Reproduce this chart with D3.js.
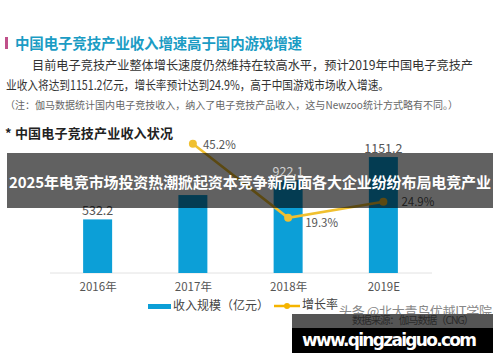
<!DOCTYPE html>
<html>
<head>
<meta charset="utf-8">
<script src="https://cdn.jsdelivr.net/npm/d3@7"></script>
<style>
  body { margin: 0; background: #fff; }
  svg { display: block; font-family: "Noto Sans CJK SC", "Noto Sans", sans-serif; }
</style>
</head>
<body>
<svg id="chart" width="500" height="362"></svg>
<script>
var years = ["2016年", "2017年", "2018年", "2019E"];
var revenue = [532.2, 774, 922.1, 1151.2];
var revenueLabels = ["532.2", null, "922.1", "1151.2"];
var growth = [null, 45.2, 19.3, 24.9];
var growthLabels = [null, "45.2%", "19.3%", "24.9%"];
var legendNames = ["收入规模（亿元）", "增长率"];

var barColor = "#0c9fd7";
var lineColor = "#f0c030";

var svg = d3.select("#chart");

// header text
svg.append("rect").attr("x", 5).attr("y", 37).attr("width", 3).attr("height", 12).attr("fill", "#c0508a");
svg.append("text").attr("x", 15).attr("y", 48.5)
  .attr("font-size", 14.5).attr("font-weight", "bold").attr("fill", "#1b9cc4")
  .attr("textLength", 287)
  .text("中国电子竞技产业收入增速高于国内游戏增速");
svg.append("text").attr("x", 32).attr("y", 69.5)
  .attr("font-size", 12.5).attr("fill", "#333")
  .attr("textLength", 441).attr("lengthAdjust", "spacingAndGlyphs")
  .text("目前电子竞技产业整体增长速度仍然维持在较高水平，预计2019年中国电子竞技产");
svg.append("text").attr("x", 6).attr("y", 89.5)
  .attr("font-size", 12.5).attr("fill", "#333")
  .attr("textLength", 383).attr("lengthAdjust", "spacingAndGlyphs")
  .text("业收入将达到1151.2亿元，增长率预计达到24.9%，高于中国游戏市场收入增速。");
svg.append("text").attr("x", 5).attr("y", 108.5)
  .attr("font-size", 10).attr("fill", "#666").attr("textLength", 453)
  .text("（注：伽马数据统计国内电子竞技收入，纳入了电子竞技产品收入，这与Newzoo统计方式略有不同。）");
svg.append("text").attr("x", 5).attr("y", 137.5)
  .attr("font-size", 13).attr("font-weight", "bold").attr("fill", "#222").attr("textLength", 168)
  .text("* 中国电子竞技产业收入状况");

// chart
var x = d3.scalePoint().domain(years).range([50, 431]).padding(0.5);
var yBar = d3.scaleLinear().domain([0, 1400]).range([273, 132]);
var yRate = d3.scaleLinear().domain([0, 50]).range([273, 130]);
var barW = 29;

var xAxis = d3.axisBottom(x).tickSize(0).tickPadding(10);
var ax = svg.append("g").attr("transform", "translate(0,273)").call(xAxis);
ax.select(".domain").attr("stroke", "#e2e2e2").attr("d", "M50,0H432");
ax.selectAll("text").attr("font-size", 11.5).attr("fill", "#555")
  .attr("font-family", "Noto Sans CJK SC, sans-serif");

svg.selectAll(".bar").data(revenue).enter().append("rect")
  .attr("class", "bar")
  .attr("x", function(d, i){ return x(years[i]) - barW/2; })
  .attr("y", function(d){ return yBar(d); })
  .attr("width", barW)
  .attr("height", function(d){ return 273 - yBar(d); })
  .attr("fill", barColor);

var barLabelData = revenue.map(function(v, i){ return {year: years[i], v: v, label: revenueLabels[i]}; })
  .filter(function(d){ return d.label != null; });

// labels below the banner
svg.selectAll(".bar-label").data(barLabelData.filter(function(d){ return d.year != "2018年"; }))
  .enter().append("text")
  .attr("x", function(d){ return x(d.year); })
  .attr("y", function(d){ return yBar(d.v) - 4; })
  .attr("text-anchor", "middle")
  .attr("font-size", 12.5).attr("fill", "#555")
  .text(function(d){ return d.label; });

var rateData = years.map(function(y, i){ return {year: y, v: growth[i], label: growthLabels[i]}; })
  .filter(function(d){ return d.v != null; });

var line = d3.line()
  .x(function(d){ return x(d.year); })
  .y(function(d){ return yRate(d.v); });

svg.append("path").datum(rateData)
  .attr("d", line).attr("fill", "none")
  .attr("stroke", lineColor).attr("stroke-width", 2.5);

svg.selectAll(".dot").data(rateData).enter().append("circle")
  .attr("cx", function(d){ return x(d.year); })
  .attr("cy", function(d){ return yRate(d.v); })
  .attr("r", 4).attr("fill", lineColor);

var labelOff = {"2017年": [10, 1], "2018年": [17, 5], "2019E": [18, 0]};
svg.selectAll(".rate-label").data(rateData).enter().append("text")
  .attr("x", function(d){ return x(d.year) + labelOff[d.year][0]; })
  .attr("y", function(d){ return yRate(d.v) + labelOff[d.year][1]; })
  .attr("dy", "0.35em")
  .attr("font-size", 11.5).attr("fill", "#555")
  .text(function(d){ return d.label; });

// legend
svg.append("rect").attr("x", 148).attr("y", 304).attr("width", 23).attr("height", 5).attr("fill", barColor);
svg.append("text").attr("x", 173).attr("y", 306).attr("dy", "0.35em")
  .attr("font-size", 12).attr("fill", "#444").text(legendNames[0]);
svg.append("line").attr("x1", 274).attr("x2", 300).attr("y1", 306).attr("y2", 306)
  .attr("stroke", "#f5b400").attr("stroke-width", 2.5);
svg.append("circle").attr("cx", 287).attr("cy", 306).attr("r", 3).attr("fill", "#f5b400");
svg.append("text").attr("x", 302).attr("y", 305).attr("dy", "0.35em")
  .attr("font-size", 12).attr("fill", "#444").text(legendNames[1]);

// overlay banner
svg.append("rect").attr("x", 7).attr("y", 153).attr("width", 486).attr("height", 55)
  .attr("fill", "#000").attr("opacity", 0.62);
svg.append("text").attr("x", 9).attr("y", 183).attr("dy", "0.35em")
  .attr("font-size", 15).attr("font-weight", "bold").attr("fill", "#fff")
  .attr("textLength", 482)
  .text("2025年电竞市场投资热潮掀起资本竞争新局面各大企业纷纷布局电竞产业");

// the 2018 label shows light on top of the banner
svg.selectAll(".bar-label-top").data(barLabelData.filter(function(d){ return d.year == "2018年"; }))
  .enter().append("text")
  .attr("x", function(d){ return x(d.year); })
  .attr("y", function(d){ return yBar(d.v) - 4; })
  .attr("text-anchor", "middle")
  .attr("font-size", 12.5).attr("fill", "#cfcfcf")
  .text(function(d){ return d.label; });

// watermarks
svg.append("text").attr("x", 339).attr("y", 311).attr("dy", "0.35em")
  .attr("font-size", 13).attr("fill", "#888").attr("textLength", 153)
  .text("头条 @北大青鸟优越IT学院");
svg.append("rect").attr("x", 292).attr("y", 314).attr("width", 201).attr("height", 14).attr("fill", "#555");
svg.append("text").attr("x", 352).attr("y", 320).attr("dy", "0.35em")
  .attr("font-size", 10.5).attr("fill", "#2a2a2a").attr("textLength", 122)
  .text("数据来源：伽马数据（CNG）");
svg.append("rect").attr("x", 292).attr("y", 328).attr("width", 201).attr("height", 25).attr("fill", "#000");
svg.append("text").attr("x", 302).attr("y", 340).attr("dy", "0.35em")
  .attr("font-size", 17).attr("font-weight", "bold").attr("fill", "#fff")
  .attr("font-family", "DejaVu Sans, sans-serif").attr("textLength", 175)
  .text("www.qingzaiguo.com");
</script>
</body>
</html>
